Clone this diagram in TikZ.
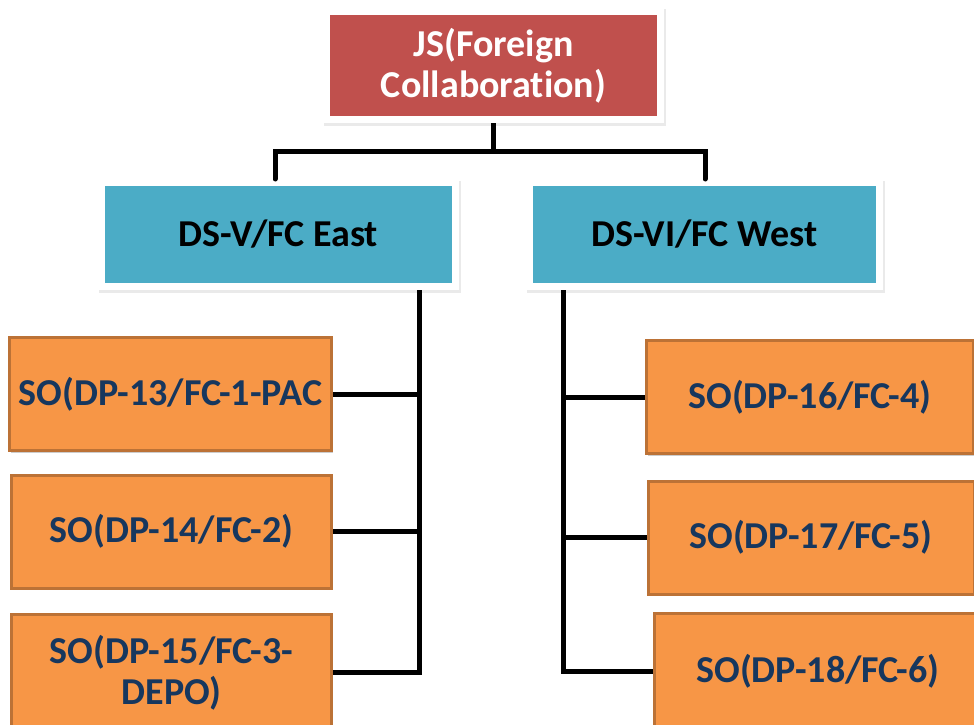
\documentclass[tikz,border=0pt]{standalone}
\usepackage{fontspec}
\setmainfont{Carlito}[Ligatures=NoCommon]
\usetikzlibrary{shadows,calc}
\definecolor{jsred}{HTML}{C0504D}
\definecolor{dscyan}{HTML}{4BACC6}
\definecolor{soorange}{HTML}{F79646}
\definecolor{soborder}{HTML}{BC7236}
\definecolor{sotext}{HTML}{17375E}
\begin{document}
\begin{tikzpicture}[x=1pt,y=-1pt,
  every node/.style={font=\fontsize{38}{41}\selectfont\bfseries, inner sep=0pt, align=center},
  framed/.style={draw=white, line width=7pt,
    drop shadow={shadow xshift=1pt, shadow yshift=-2pt, fill=black!16, draw=black!16, line width=8pt}},
  jsbox/.style={framed, fill=jsred, text=white, minimum width=334pt, minimum height=108pt},
  dsbox/.style={framed, fill=dscyan, text=black, minimum height=104pt},
  sobox/.style={fill=soorange, draw=soborder, line width=3pt, text=sotext,
    minimum height=113pt,
    drop shadow={shadow xshift=1pt, shadow yshift=-2pt, opacity=0.2, fill=black}},
  conn/.style={draw=black, line width=5pt}]
\useasboundingbox (0,0) rectangle (974,725);
\node[jsbox] (js) at (493.5,65.5) {JS(Foreign\\Collaboration)};
\node[dsbox, minimum width=354pt] (dsv) at (278.5,234.5) {DS-V/FC East};
\node[dsbox, minimum width=350pt] (dsvi) at (704.5,234.5) {DS-VI/FC West};
\node[sobox, minimum width=322pt] (so13) at (170.5,394) {SO(DP-13/FC-1-PAC};
\node[sobox, minimum width=320pt] (so14) at (171.5,531.5) {SO(DP-14/FC-2)};
\node[sobox, minimum width=320pt, minimum height=116pt] (so15) at (171.5,672.5) {SO(DP-15/FC-3-\\DEPO)};
\node[sobox, minimum width=327pt] (so16) at (810,397) {SO(DP-16/FC-4)};
\node[sobox, minimum width=326pt] (so17) at (811,537.5) {SO(DP-17/FC-5)};
\node[sobox, minimum width=328pt, minimum height=116pt] (so18) at (818,671) {SO(DP-18/FC-6)};
\coordinate (hub) at ($(js.south)+(0,28)$);
\draw[conn] (js.south) -- (hub);
\draw[conn, line cap=round] ([xshift=-3.5pt]dsv.north) -- ([xshift=-3.5pt]dsv.north |- hub) -- ([xshift=0.5pt]dsvi.north |- hub) -- ([xshift=0.5pt]dsvi.north);
\coordinate (lt) at ([xshift=140.5pt]dsv.south);
\coordinate (rt) at ([xshift=-141.5pt]dsvi.south);
\draw[conn] (lt) |- (so15.east);
\draw[conn] (so13.east) -- (so13.east -| lt);
\draw[conn] (so14.east) -- (so14.east -| lt);
\draw[conn] (rt) |- (so18.west);
\draw[conn] (so16.west) -- (so16.west -| rt);
\draw[conn] (so17.west) -- (so17.west -| rt);
\end{tikzpicture}
\end{document}
